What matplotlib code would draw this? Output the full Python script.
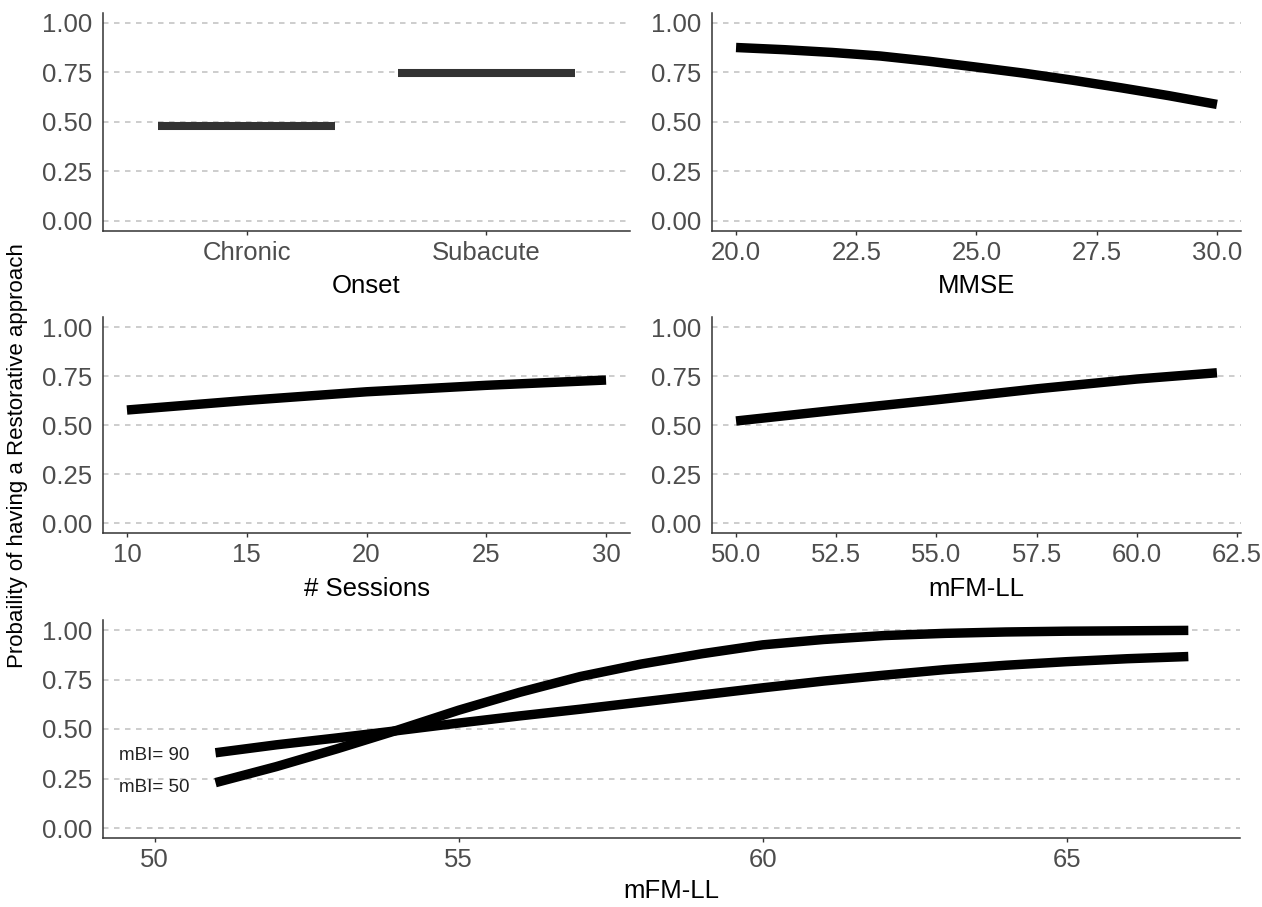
import matplotlib
matplotlib.use("Agg")
import matplotlib.pyplot as plt
import numpy as np

plt.rcParams['font.family'] = ['Liberation Sans', 'DejaVu Sans']

# ---------------- data ----------------
onset_categories = ["Chronic", "Subacute"]
onset_prob = [0.478, 0.748]

mmse_x = [20, 21, 22, 23, 24, 25, 26, 27, 28, 29, 30]
mmse_prob = [0.875, 0.864, 0.850, 0.832, 0.806, 0.776, 0.745, 0.710, 0.672, 0.632, 0.588]

sessions_x = [10, 15, 20, 25, 30]
sessions_prob = [0.578, 0.627, 0.671, 0.704, 0.731]

mfm_x = [50, 52.5, 55, 57.5, 60, 62]
mfm_prob = [0.522, 0.577, 0.630, 0.686, 0.736, 0.768]

mfm2_x = [51, 52, 53, 54, 55, 56, 57, 58, 59, 60, 61, 62, 63, 64, 65, 66, 67]
mbi50_prob = [0.229, 0.310, 0.400, 0.495, 0.595, 0.685, 0.765, 0.828, 0.880, 0.925, 0.952, 0.972, 0.983, 0.990, 0.994, 0.996, 0.998]
mbi90_prob = [0.380, 0.420, 0.455, 0.492, 0.530, 0.566, 0.600, 0.636, 0.672, 0.708, 0.742, 0.772, 0.800, 0.822, 0.840, 0.855, 0.866]

mbi_labels = ["mBI= 90", "mBI= 50"]
mbi_label_y = [0.365, 0.205]
mbi_label_x = 50

y_ticks = [0.0, 0.25, 0.50, 0.75, 1.00]
y_ticklabels = ["0.00", "0.25", "0.50", "0.75", "1.00"]

# ---------------- figure ----------------
W, H = 1262, 907
fig = plt.figure(figsize=(W / 100, H / 100), dpi=100)
fig.patch.set_facecolor("white")


def px_axes(x0, x1, ytop, ybot):
    return fig.add_axes([x0 / W, (H - ybot) / H, (x1 - x0) / W, (ybot - ytop) / H])


TICK_FS = 18.5
TITLE_FS = 18.5
LINE_W = 6.8
TICK_COL = "#4D4D4D"
AX_COL = "#333333"


def style(ax, xlim, xticks, xticklabels, xlabel):
    ax.set_xlim(*xlim)
    ax.set_ylim(-0.05, 1.05)
    ax.set_yticks(y_ticks)
    ax.set_yticklabels(y_ticklabels)
    ax.set_xticks(xticks)
    ax.set_xticklabels(xticklabels)
    for s in ["top", "right"]:
        ax.spines[s].set_visible(False)
    for s in ["left", "bottom"]:
        ax.spines[s].set_color(AX_COL)
        ax.spines[s].set_linewidth(1.1)
    ax.set_axisbelow(True)
    ax.yaxis.grid(True, color="#C0C0C0", linewidth=1.1, linestyle=(0, (3.6, 3.6)))
    ax.xaxis.grid(False)
    ax.tick_params(axis="y", length=0, pad=8, labelsize=TICK_FS, labelcolor=TICK_COL)
    ax.tick_params(axis="x", length=3, width=1, color=AX_COL, pad=4,
                   labelsize=TICK_FS, labelcolor=TICK_COL)
    ax.set_xlabel(xlabel, fontsize=TITLE_FS, color="black", labelpad=7)


# Top-left: Onset
ax1 = px_axes(103, 630, 12.8, 230.9)
pos = np.arange(1, len(onset_categories) + 1)
bar_w = 0.74
ax1.hlines(onset_prob, pos - bar_w / 2, pos + bar_w / 2, colors="#333333",
           linewidth=5.8, capstyle="butt")
style(ax1, (0.4, 2.6), pos, onset_categories, "Onset")

# Top-right: MMSE
ax2 = px_axes(712, 1241, 12.8, 230.9)
ax2.plot(mmse_x, mmse_prob, color="black", lw=LINE_W, solid_capstyle="butt")
style(ax2, (19.5, 30.5), [20, 22.5, 25, 27.5, 30],
      ["20.0", "22.5", "25.0", "27.5", "30.0"], "MMSE")

# Middle-left: Sessions
ax3 = px_axes(103, 630, 317.5, 533.1)
ax3.plot(sessions_x, sessions_prob, color="black", lw=LINE_W, solid_capstyle="butt")
style(ax3, (9, 31), [10, 15, 20, 25, 30], ["10", "15", "20", "25", "30"], "# Sessions")

# Middle-right: mFM-LL
ax4 = px_axes(712, 1241, 317.5, 533.1)
ax4.plot(mfm_x, mfm_prob, color="black", lw=LINE_W, solid_capstyle="butt")
style(ax4, (49.4, 62.6), [50, 52.5, 55, 57.5, 60, 62.5],
      ["50.0", "52.5", "55.0", "57.5", "60.0", "62.5"], "mFM-LL")

# Bottom: mFM-LL by mBI
ax5 = px_axes(103, 1240, 620.1, 837.9)
ax5.plot(mfm2_x, mbi50_prob, color="black", lw=LINE_W, solid_capstyle="butt")
ax5.plot(mfm2_x, mbi90_prob, color="black", lw=LINE_W, solid_capstyle="butt")
for lab, yy in zip(mbi_labels, mbi_label_y):
    ax5.text(mbi_label_x, yy, lab, ha="center", va="center", fontsize=13.5, color="#222222")
style(ax5, (49.15, 67.85), [50, 55, 60, 65], ["50", "55", "60", "65"], "mFM-LL")
ax5.xaxis.labelpad = 5

fig.text(18 / W, (H - 455.5) / H, "Probaility of having a Restorative approach",
         rotation=90, ha="center", va="center", fontsize=16, color="black")

fig.savefig("out.png", dpi=100, facecolor="white")
